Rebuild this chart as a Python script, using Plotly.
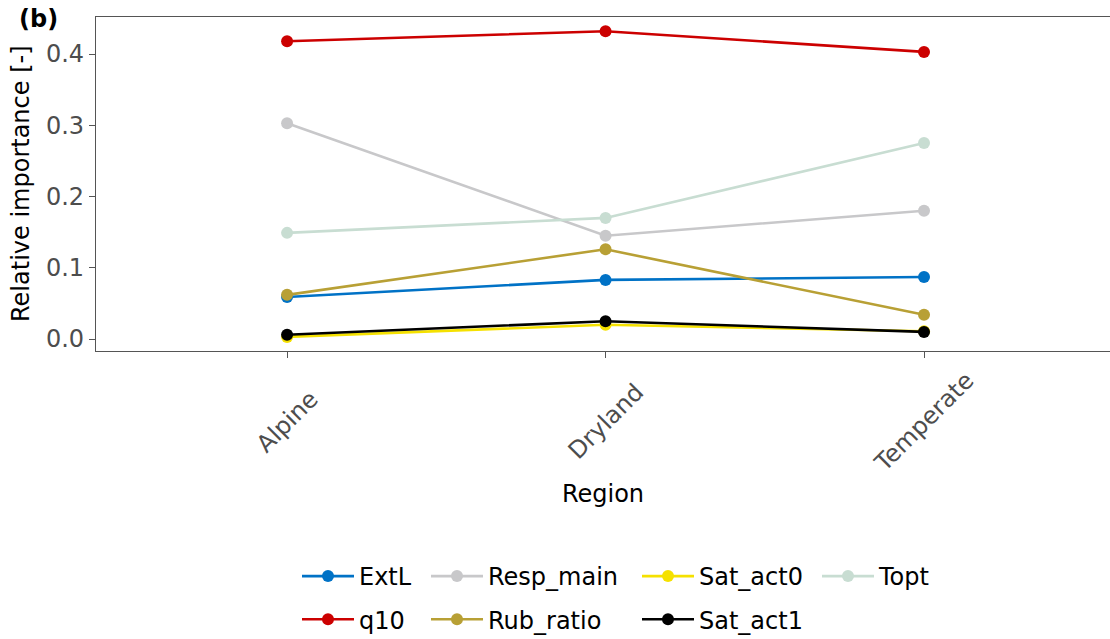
import plotly.graph_objects as go

regions = ["Alpine", "Dryland", "Temperate"]

ext_l = [0.059, 0.083, 0.087]
q10 = [0.418, 0.432, 0.403]
resp_main = [0.303, 0.145, 0.180]
rub_ratio = [0.062, 0.126, 0.034]
sat_act0 = [0.003, 0.020, 0.011]
sat_act1 = [0.006, 0.025, 0.010]
topt = [0.149, 0.170, 0.275]

series = [
    # name, values, colour, legend column
    ("ExtL", ext_l, "#0072C6", "legend"),
    ("q10", q10, "#CC0000", "legend"),
    ("Resp_main", resp_main, "#C8C8CA", "legend2"),
    ("Rub_ratio", rub_ratio, "#B8A035", "legend2"),
    ("Sat_act0", sat_act0, "#F5E100", "legend3"),
    ("Sat_act1", sat_act1, "#000000", "legend3"),
    ("Topt", topt, "#C8DDD2", "legend4"),
]

FONT = "DejaVu Sans"
FS = 24
AXIS_GREY = "#555555"
TICK_GREY = "#4D4D4D"

W, H = 1110, 639
PLOT_W, PLOT_H = 1014, 334
fig = go.Figure()
x_pos = [1, 2, 3]
for name, vals, colour, leg in series:
    fig.add_trace(go.Scatter(
        x=x_pos, y=vals, name=name, mode="lines+markers",
        line=dict(color=colour, width=2.6),
        marker=dict(color=colour, size=12),
        legend=leg, legendgroup=name,
    ))

# four legend columns laid out side by side below the panel
legend_common = dict(
    xref="container", yref="container", xanchor="left", yanchor="top",
    orientation="v", font=dict(family=FONT, size=FS, color="#000000"),
    bgcolor="rgba(0,0,0,0)", tracegroupgap=9, itemwidth=52,
)
leg_y = 1 - 554 / H
fig.update_layout(
    legend=dict(x=297 / W, y=leg_y, **legend_common),
    legend2=dict(x=426 / W, y=leg_y, **legend_common),
    legend3=dict(x=637 / W, y=leg_y, **legend_common),
    legend4=dict(x=817 / W, y=leg_y, **legend_common),
)

fig.update_xaxes(
    range=[0.4, 3.584], tickmode="array", tickvals=x_pos,
    showticklabels=False, automargin=True,
    showgrid=False, zeroline=False,
    showline=True, linecolor=AXIS_GREY, linewidth=1.3, mirror=True,
    ticks="outside", ticklen=6, tickwidth=1.3, tickcolor=AXIS_GREY,
    title=dict(text="Region", font=dict(family=FONT, size=FS, color="#000000"), standoff=128),
)
fig.update_yaxes(
    range=[-0.0168, 0.452], tickvals=[0, 0.1, 0.2, 0.3, 0.4],
    ticktext=["0.0", "0.1", "0.2", "0.3", "0.4"], automargin=True,
    showgrid=False, zeroline=False,
    showline=True, linecolor=AXIS_GREY, linewidth=1.3,
    ticks="outside", ticklen=6, tickwidth=1.3, tickcolor=AXIS_GREY,
    tickfont=dict(family=FONT, size=FS, color=TICK_GREY),
)

# y-axis label, rotated and centred on the panel
fig.add_annotation(
    text="Relative importance [-]", xref="paper", yref="paper",
    x=(21 - 96) / PLOT_W, y=0.5, textangle=-90,
    xanchor="center", yanchor="middle", showarrow=False,
    font=dict(family=FONT, size=FS, color="#000000"),
)

# rotated category labels centred under each tick
for xv, lab in zip(x_pos, regions):
    fig.add_annotation(
        text=lab, x=xv, xref="x", y=-(422 - 351) / PLOT_H, yref="paper",
        textangle=-45, xanchor="center", yanchor="middle", showarrow=False,
        font=dict(family=FONT, size=FS, color=TICK_GREY),
    )

fig.add_annotation(
    text="<b>(b)</b>", xref="paper", yref="paper", x=-79 / PLOT_W, y=(351 - 19) / PLOT_H,
    xanchor="left", yanchor="middle", showarrow=False,
    font=dict(family=FONT, size=FS, color="#000000"),
)

fig.update_layout(
    width=W, height=H,
    margin=dict(l=96, r=0, t=17, b=288, autoexpand=False),
    paper_bgcolor="white", plot_bgcolor="white",
    showlegend=True,
)

fig.write_html("out.html")
